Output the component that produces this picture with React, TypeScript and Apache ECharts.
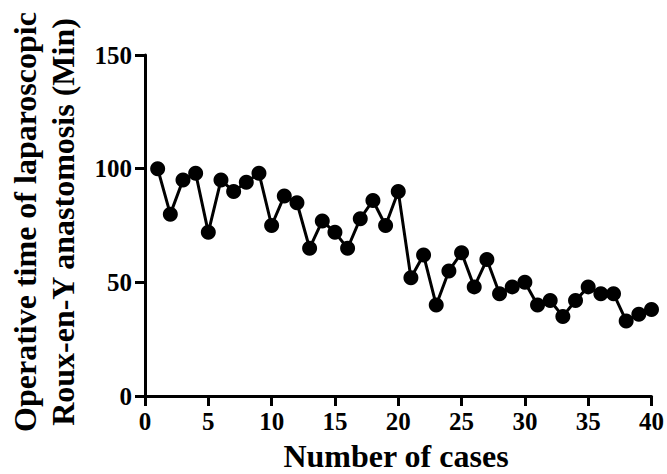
import React, { useEffect, useRef } from "react";
import * as echarts from "echarts";

const caseNumbers = [
  1, 2, 3, 4, 5, 6, 7, 8, 9, 10, 11, 12, 13, 14, 15, 16, 17, 18, 19, 20,
  21, 22, 23, 24, 25, 26, 27, 28, 29, 30, 31, 32, 33, 34, 35, 36, 37, 38, 39, 40,
];
const operativeTimes = [
  100, 80, 95, 98, 72, 95, 90, 94, 98, 75, 88, 85, 65, 77, 72, 65, 78, 86, 75, 90,
  52, 62, 40, 55, 63, 48, 60, 45, 48, 50, 40, 42, 35, 42, 48, 45, 45, 33, 36, 38,
];
const xTitle = "Number of cases";
const yTitleLines = ["Operative time of laparoscopic", "Roux-en-Y anastomosis (Min)"];

const FONT = '"Liberation Serif", "Times New Roman", serif';

export default function App() {
  const ref = useRef<HTMLDivElement>(null);
  useEffect(() => {
    if (!ref.current) return;
    const chart = echarts.init(ref.current, null, { renderer: "svg" });
    const axisCommon = {
      axisLine: { show: true, lineStyle: { color: "#000", width: 3 } },
      axisTick: { show: true, length: 10, inside: false, lineStyle: { color: "#000", width: 3 } },
      axisLabel: { color: "#000", fontFamily: FONT, fontWeight: "bold", fontSize: 25, margin: 13 },
      splitLine: { show: false },
    };
    chart.setOption({
      animation: false,
      backgroundColor: "#fff",
      grid: { left: 145, right: 15, top: 55, bottom: 78, containLabel: false },
      xAxis: {
        type: "value",
        min: 0,
        max: 40,
        interval: 5,
        ...axisCommon,
      },
      yAxis: {
        type: "value",
        min: 0,
        max: 150,
        interval: 50,
        ...axisCommon,
      },
      series: [
        {
          type: "line",
          data: caseNumbers.map((c, i) => [c, operativeTimes[i]]),
          symbol: "circle",
          symbolSize: 15,
          lineStyle: { color: "#000", width: 3 },
          itemStyle: { color: "#000" },
          z: 5,
        },
      ],
      graphic: [
        {
          type: "text",
          x: 396,
          y: 456,
          style: {
            text: xTitle,
            font: `bold 32px ${FONT}`,
            fill: "#000",
            textAlign: "center",
            textVerticalAlign: "middle",
          },
        },
        {
          type: "text",
          x: 25,
          y: 222,
          rotation: Math.PI / 2,
          style: {
            text: yTitleLines[0],
            font: `bold 32px ${FONT}`,
            fill: "#000",
            textAlign: "center",
            textVerticalAlign: "middle",
          },
        },
        {
          type: "text",
          x: 63,
          y: 222,
          rotation: Math.PI / 2,
          style: {
            text: yTitleLines[1],
            font: `bold 32px ${FONT}`,
            fill: "#000",
            textAlign: "center",
            textVerticalAlign: "middle",
          },
        },
      ],
    });
    return () => chart.dispose();
  }, []);
  return <div ref={ref} style={{ width: 667, height: 474, position: "absolute", left: 0, top: 0 }} />;
}
